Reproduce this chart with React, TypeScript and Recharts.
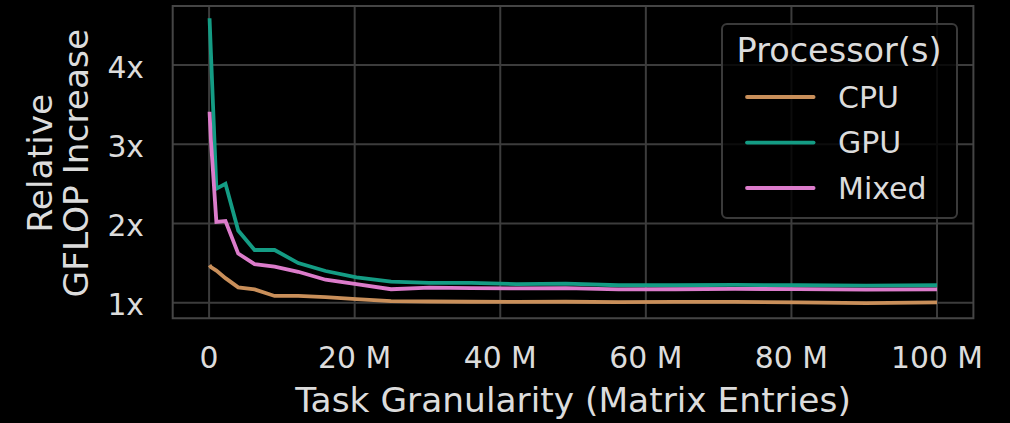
import React from 'react';
import {
  LineChart,
  Line,
  XAxis,
  YAxis,
  CartesianGrid,
  Legend,
  ReferenceArea,
  Label,
} from 'recharts';

// Task granularity (millions of matrix entries)
const sizes = [0.0625, 0.25, 1, 2.25, 4, 6.25, 9, 12.25, 16, 20.25, 25, 30.25, 36, 42.25, 49, 56.25, 64, 72.25, 81, 90.25, 100];
const cpu = [1.475, 1.45, 1.405, 1.31, 1.193, 1.168, 1.085, 1.085, 1.07, 1.045, 1.02, 1.015, 1.012, 1.01, 1.012, 1.008, 1.01, 1.01, 1.005, 0.995, 1.005];
const gpu = [4.59, 4.15, 2.44, 2.5, 1.91, 1.665, 1.665, 1.5, 1.4, 1.32, 1.265, 1.25, 1.25, 1.235, 1.24, 1.22, 1.22, 1.225, 1.22, 1.215, 1.22];
const mixed = [3.41, 3.05, 2.02, 2.03, 1.62, 1.487, 1.455, 1.39, 1.29, 1.235, 1.17, 1.19, 1.185, 1.18, 1.185, 1.168, 1.17, 1.175, 1.17, 1.165, 1.168];

const xTicks = [0, 20, 40, 60, 80, 100];
const yTicks = [1, 2, 3, 4];
const xDomain: [number, number] = [-5, 105];
const yDomain: [number, number] = [0.803, 4.745];

const series = [
  { key: 'CPU', values: cpu, color: '#c98f5a' },
  { key: 'GPU', values: gpu, color: '#149c84' },
  { key: 'Mixed', values: mixed, color: '#dc7ccb' },
];

const data = sizes.map((x, i) => {
  const row: Record<string, number> = { x };
  series.forEach((s) => {
    row[s.key] = s.values[i];
  });
  return row;
});

const FONT = '"DejaVu Sans", sans-serif';
const TEXT = '#dcdcdc';
const GRID = '#3c3c3c';
const LABEL_SIZE = 34.4;
const TICK_SIZE = 29.8;

const LegendBox = (props: any) => {
  const payload = props.payload || [];
  const rowsY = [74, 119.6, 165];
  return (
    <svg width={238} height={197} style={{ display: 'block', fontFamily: FONT }}>
      <rect x={1} y={1} width={235} height={194} rx={5} ry={5} fill="rgba(0,0,0,0.8)" stroke="#3a3a3a" strokeWidth={2} />
      <text x={118} y={39} textAnchor="middle" fill={TEXT} fontSize={33.5}>
        Processor(s)
      </text>
      {payload.map((p: any, i: number) => (
        <g key={p.value}>
          <line x1={26} x2={92.6} y1={rowsY[i]} y2={rowsY[i]} stroke={p.color} strokeWidth={3.8} strokeLinecap="round" />
          <text x={117} y={rowsY[i] + 10.8} fill={TEXT} fontSize={30}>
            {p.value}
          </text>
        </g>
      ))}
    </svg>
  );
};

const YLabel = (props: any) => {
  const vb = props.viewBox || { y: 6, height: 312 };
  const cy = vb.y + vb.height / 2 + 1;
  return (
    <g fontFamily={FONT} fontSize={LABEL_SIZE} fill={TEXT}>
      <text x={51.7} y={cy} textAnchor="middle" transform={`rotate(-90, 51.7, ${cy})`}>
        Relative
      </text>
      <text x={88.5} y={cy} textAnchor="middle" transform={`rotate(-90, 88.5, ${cy})`}>
        GFLOP Increase
      </text>
    </g>
  );
};

export default function App() {
  return (
    <div style={{ position: 'absolute', left: 0, top: 0, width: 1010, height: 423, background: '#000' }}>
      <LineChart
        width={1010}
        height={423}
        data={data}
        margin={{ top: 6, right: 36.6, bottom: 0.7, left: 0.7 }}
      >
        <CartesianGrid stroke={GRID} strokeWidth={2} horizontalValues={yTicks} verticalValues={xTicks} />
        <ReferenceArea
          x1={xDomain[0]}
          x2={xDomain[1]}
          y1={yDomain[0]}
          y2={yDomain[1]}
          fill="none"
          fillOpacity={0}
          stroke="#454545"
          strokeWidth={2}
          ifOverflow="visible"
        />
        <XAxis
          dataKey="x"
          type="number"
          domain={xDomain}
          ticks={xTicks}
          allowDataOverflow
          height={104}
          axisLine={false}
          tickLine={false}
          tickSize={0}
          tickMargin={29}
          interval={0}
          tickFormatter={(v: number) => (v === 0 ? '0' : `${v} M`)}
          tick={{ fill: TEXT, fontSize: TICK_SIZE, fontFamily: FONT }}
        >
          <Label
            value="Task Granularity (Matrix Entries)"
            position="insideBottom"
            offset={10.6}
            fill={TEXT}
            fontSize={LABEL_SIZE}
            fontFamily={FONT}
          />
        </XAxis>
        <YAxis
          type="number"
          domain={yDomain}
          ticks={yTicks}
          allowDataOverflow
          width={172}
          axisLine={false}
          tickLine={false}
          tickSize={0}
          tickMargin={28.7}
          interval={0}
          tickFormatter={(v: number) => `${v}x`}
          tick={{ fill: TEXT, fontSize: TICK_SIZE, fontFamily: FONT, dy: 2 }}
          label={<YLabel />}
        />
        <Legend
          layout="vertical"
          align="center"
          verticalAlign="middle"
          content={<LegendBox />}
          wrapperStyle={{ position: 'absolute', left: 720.7, top: 22.7, width: 238, height: 197, margin: 0, padding: 0 }}
        />
        {series.map((s) => (
          <Line
            key={s.key}
            dataKey={s.key}
            name={s.key}
            type="linear"
            stroke={s.color}
            strokeWidth={3.8}
            dot={false}
            activeDot={false}
            isAnimationActive={false}
          />
        ))}
      </LineChart>
    </div>
  );
}
